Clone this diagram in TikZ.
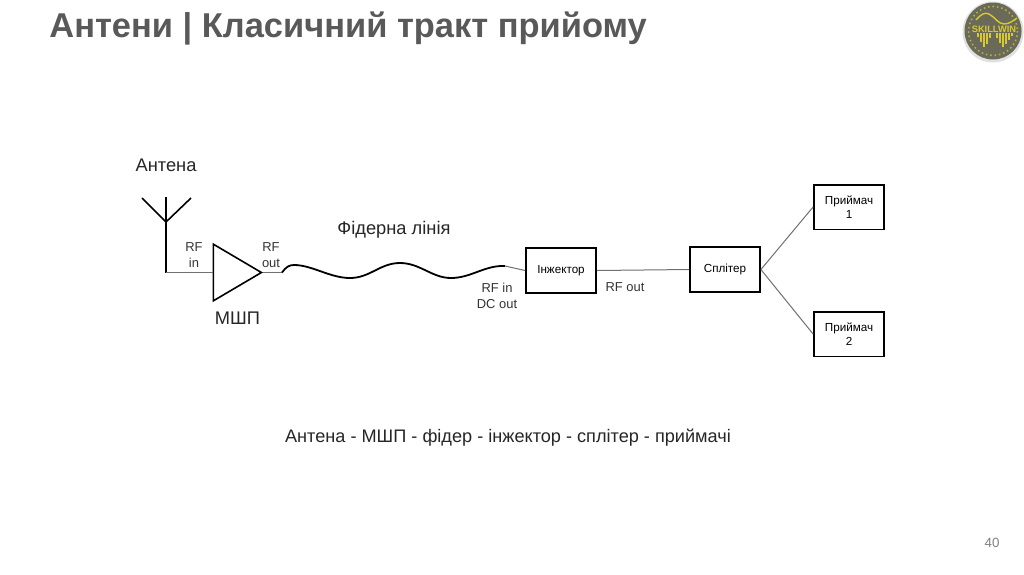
\documentclass[tikz,border=0pt]{standalone}
\usepackage{fontspec}
\setmainfont{Liberation Sans}
\usetikzlibrary{arrows.meta}
\usetikzlibrary{shapes.geometric}
\definecolor{titlegray}{HTML}{595959}
\definecolor{wiregray}{HTML}{707070}
\definecolor{logogray}{HTML}{6A6A58}
\definecolor{logoyellow}{HTML}{D8C832}
\tikzset{
  blockbox/.style={draw=black,line width=0.45mm,fill=white,inner sep=0pt,minimum width=1.75cm,minimum height=1.12cm,align=center,font=\fontsize{8.3}{9.6}\selectfont},
  wire/.style={draw=wiregray,line width=0.25mm},
  lbl/.style={inner sep=0pt,align=center,text=black!80,font=\fontsize{9.2}{11.4}\selectfont},
  biglbl/.style={inner sep=0pt,text=black!85,font=\fontsize{13}{15}\selectfont}
}
\begin{document}
\begin{tikzpicture}[x=0.025cm,y=-0.025cm,line width=0.2mm]
\useasboundingbox (0,0) rectangle (1024,574);
\fill[white] (0,0) rectangle (1024,574);

% title and page number
\node[inner sep=0pt,anchor=west,text=titlegray,font=\bfseries\fontsize{24.5}{28}\selectfont] (title) at (49,29) {Антени | Класичний тракт прийому};
\node[inner sep=0pt,text=gray,font=\fontsize{9.5}{12}\selectfont] (pagenum) at (992,543) {40};

% logo
\fill[black!12] (993,32) circle (30.5);
\fill[logogray] (993,31) circle (28.5);
\draw[logoyellow!70!logogray,dotted,line width=0.4mm] (993,31) circle (24.5);
\draw[logoyellow,line width=0.35mm] (976,20) .. controls (981,14) and (985,12) .. (989,14) .. controls (995,17) and (998,24) .. (1004,24) .. controls (1009,24) and (1013,21) .. (1017,18);
\node[inner sep=0pt,text=logoyellow,font=\bfseries\fontsize{6.6}{8}\selectfont] (logotext) at (994,29) {SKILLWIN};
\foreach \x/\h in {978/37,981/42,984/47,987/44,990/38,997/38,1000/43,1003/47,1006/44,1009/40,1012/36}
  \draw[logoyellow,line width=0.4mm] (\x,33) -- (\x,\h);

% blocks
\node[blockbox] (injector) at (561,270.5) {Інжектор};
\node[blockbox] (splitter) at (725,269.5) {Сплітер};
\node[blockbox] (rx1) at (849,207) {Приймач\\1};
\node[blockbox] (rx2) at (849,334) {Приймач\\2};
\node[draw=black,line width=0.4mm,shape=isosceles triangle,isosceles triangle apex angle=61,inner sep=0pt,minimum height=1.2cm,anchor=apex,fill=white] (lna) at (263,272.5) {};

% antenna
\coordinate (top) at (166,197);
\coordinate (mid) at (166,222);
\coordinate (foot) at (166,272.5);
\coordinate (armleft) at (142,198);
\coordinate (armright) at (191,198);
\draw[black,line width=0.4mm] (top) -- (foot);
\draw[black,line width=0.4mm] (armleft) -- (mid) -- (armright);

% feeder
\coordinate (feedstart) at (282,272.5);
\coordinate (feedend) at (505,266);
\draw[wire] (foot) -- (lna.west);
\draw[wire] (lna.east) -- (feedstart);
\draw[black,line width=0.45mm] (feedstart) .. controls (286,267) and (289,265) .. (294,265)
  .. controls (312,265) and (330,278) .. (350,278)
  .. controls (370,278) and (380,263) .. (400,263)
  .. controls (420,263) and (432,278) .. (451,278)
  .. controls (471,278) and (485,265) .. (feedend);
\draw[wire] (feedend) -- (injector.west);
\draw[wire] (injector.east) -- (splitter.west);
\draw[wire] (splitter.east) -- (rx1.west);
\draw[wire] (splitter.east) -- (rx2.west);

% labels
\node[biglbl] (antlabel) at (166,165.5) {Антена};
\node[biglbl] (lnalabel) at (237.5,318) {МШП};
\node[biglbl] (feedlabel) at (394,230) {Фідерна лінія};
\node[lbl] (rfin) at (194,255) {RF\\in};
\node[lbl] (rfout) at (271,255) {RF\\out};
\node[lbl] (rfdc) at (497,295.5) {RF in\\DC out};
\node[lbl] (rfout2) at (625,287) {RF out};
\node[biglbl,font=\fontsize{12.9}{15}\selectfont] (caption) at (508,437.5) {Антена - МШП - фідер - інжектор - сплітер - приймачі};
\end{tikzpicture}
\end{document}
